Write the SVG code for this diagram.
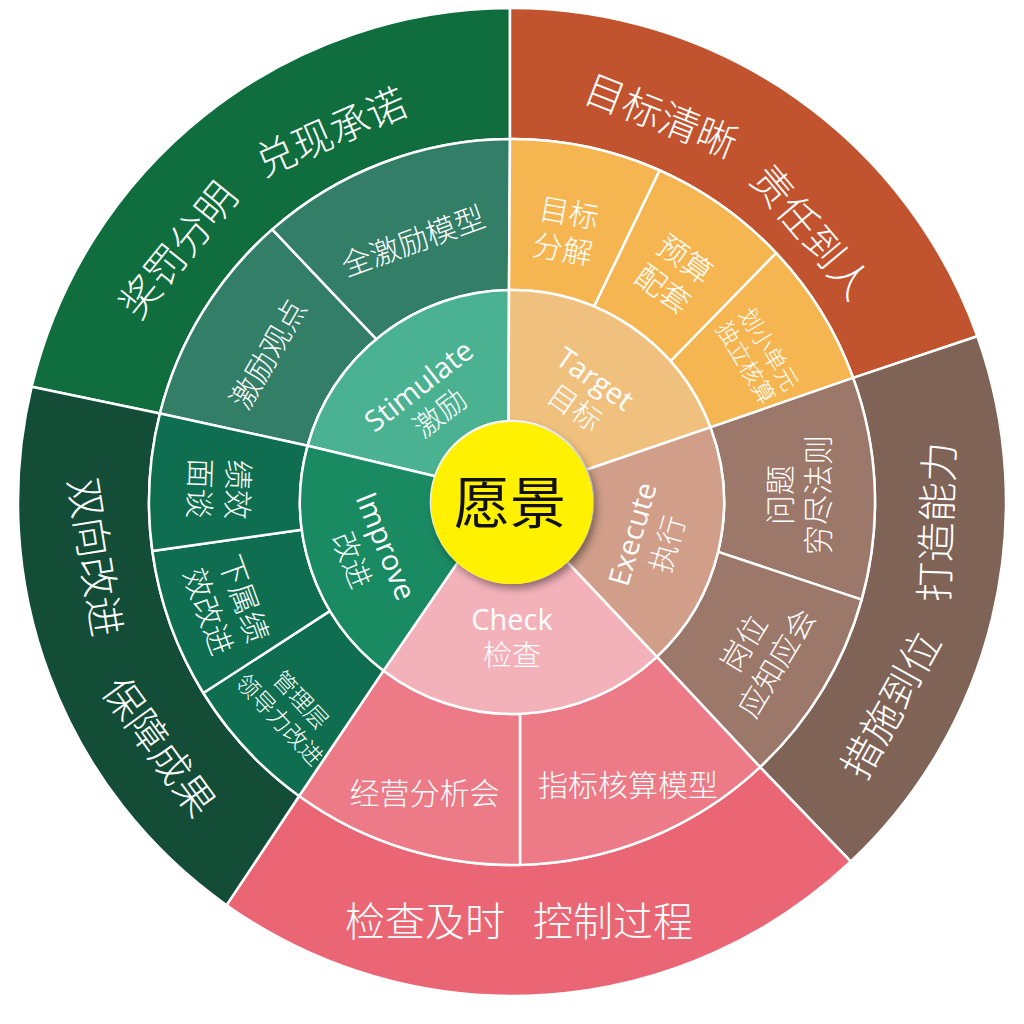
<svg xmlns="http://www.w3.org/2000/svg" width="1024" height="1024" viewBox="0 0 1024 1024">
<defs>
<style>
.seg{stroke:#ffffff;stroke-width:2.5;stroke-linejoin:round}
.t{fill:#ffffff;font-family:"Open Sans","Noto Sans CJK SC",sans-serif;font-weight:300;text-anchor:middle}
.lat{font-weight:400}
.o{font-size:40px}
.m{font-size:30px}
.s{font-size:23px}
.i{font-size:29px}
.core{fill:#111111;font-family:"Noto Sans CJK SC",sans-serif;font-size:56px;text-anchor:middle}
</style>
<filter id="sh" x="-30%" y="-30%" width="160%" height="160%">
<feDropShadow dx="3" dy="4" stdDeviation="4" flood-color="#000000" flood-opacity="0.45"/>
</filter>
</defs>
<rect width="1024" height="1024" fill="#ffffff"/>

<g id="outer-ring">
<g id="outer-stimulate">
<path class="seg" fill="#106e3e" d="M31.65,386.68 A494,494 0 0 1 510,8 L510,139.01 A363,363 0 0 0 159.94,413.57 Z"/>
<text class="t o" transform="translate(178 250) rotate(-51)" y="14.5">奖罚分明</text>
<text class="t o" transform="translate(331 132) rotate(-23.5)" y="14.5">兑现承诺</text>
</g>
<g id="outer-target">
<path class="seg" fill="#c1542f" d="M510,8 A494,494 0 0 1 977.38,336.29 L853.11,377.85 A363,363 0 0 0 510,139.01 Z"/>
<text class="t o" transform="translate(661 116) rotate(21.5)" y="14.5">目标清晰</text>
<text class="t o" transform="translate(811 232) rotate(50)" y="14.5">责任到人</text>
</g>
<g id="outer-execute">
<path class="seg" fill="#806357" d="M977.38,336.29 A494,494 0 0 1 850.8,861.52 L760.03,767.05 A363,363 0 0 0 853.11,377.85 Z"/>
<text class="t o" transform="translate(937 522) rotate(-88)" y="14.5">打造能力</text>
<text class="t o" transform="translate(891 705) rotate(-61)" y="14.5">措施到位</text>
</g>
<g id="outer-check">
<path class="seg" fill="#ea6674" d="M850.8,861.52 A494,494 0 0 1 226.54,905.17 L299.15,796.04 A363,363 0 0 0 760.03,767.05 Z"/>
<text class="t o" x="425" y="935.5">检查及时</text>
<text class="t o" x="613" y="935.5">控制过程</text>
</g>
<g id="outer-improve">
<path class="seg" fill="#134d38" d="M226.54,905.17 A494,494 0 0 1 31.65,386.68 L159.94,413.57 A363,363 0 0 0 299.15,796.04 Z"/>
<text class="t o" transform="translate(95 557) rotate(81)" y="14.5">双向改进</text>
<text class="t o" transform="translate(159 747) rotate(54)" y="14.5">保障成果</text>
</g>
</g>

<g id="middle-ring">
<g id="m-jiliguandian">
<path class="seg" fill="#337e67" d="M159.94,413.57 A363,363 0 0 1 272.26,229.43 L376.3,339.12 A212,212 0 0 0 307.61,445.7 Z"/>
<text class="t m" transform="translate(268 354) rotate(-60)" y="11">激励观点</text>
</g>
<g id="m-quanjili">
<path class="seg" fill="#337e67" d="M272.26,229.43 A363,363 0 0 1 510,139.01 L509,290.02 A212,212 0 0 0 376.3,339.12 Z"/>
<text class="t m" transform="translate(413 241) rotate(-20)" y="11">全激励模型</text>
</g>
<g id="m-mubiao">
<path class="seg" fill="#f5b652" d="M510,139.01 A363,363 0 0 1 659.65,170.38 L594.15,306.57 A212,212 0 0 0 509,290.02 Z"/>
<text class="t m" transform="translate(566 231) rotate(10)"><tspan x="0" y="-7.5">目标</tspan><tspan x="0" y="29.5">分解</tspan></text>
</g>
<g id="m-yusuan">
<path class="seg" fill="#f5b652" d="M659.65,170.38 A363,363 0 0 1 776.18,253.05 L670.53,361.25 A212,212 0 0 0 594.15,306.57 Z"/>
<text class="t m" transform="translate(674 274) rotate(36)"><tspan x="0" y="-7.5">预算</tspan><tspan x="0" y="29.5">配套</tspan></text>
</g>
<g id="m-huaxiao">
<path class="seg" fill="#f5b652" d="M776.18,253.05 A363,363 0 0 1 853.11,377.85 L710.44,427.41 A212,212 0 0 0 670.53,361.25 Z"/>
<text class="t s" transform="translate(757 356) rotate(59)"><tspan x="0" y="-5.5">划小单元</tspan><tspan x="0" y="21.5">独立核算</tspan></text>
</g>
<g id="m-wenti">
<path class="seg" fill="#9c786a" d="M853.11,377.85 A363,363 0 0 1 861.63,599.62 L718.06,551.85 A212,212 0 0 0 710.44,427.41 Z"/>
<text class="t m" transform="translate(799 495) rotate(-90)"><tspan x="0" y="-8">问题</tspan><tspan x="0" y="30">穷尽法则</tspan></text>
</g>
<g id="m-gangwei">
<path class="seg" fill="#9c786a" d="M861.63,599.62 A363,363 0 0 1 760.03,767.05 L656.85,656.79 A212,212 0 0 0 718.06,551.85 Z"/>
<text class="t m" transform="translate(760 653) rotate(-59)"><tspan x="0" y="-8">岗位</tspan><tspan x="0" y="30">应知应会</tspan></text>
</g>
<g id="m-zhibiao">
<path class="seg" fill="#ec7b87" d="M760.03,767.05 A363,363 0 0 1 520,864.91 L520,713.85 A212,212 0 0 0 656.85,656.79 Z"/>
<text class="t m" x="628" y="796">指标核算模型</text>
</g>
<g id="m-jingying">
<path class="seg" fill="#ec7b87" d="M520,864.91 A363,363 0 0 1 299.15,796.04 L383.53,670.64 A212,212 0 0 0 520,713.85 Z"/>
<text class="t m" x="424.5" y="804">经营分析会</text>
</g>
<g id="m-guanli">
<path class="seg" fill="#0f6e4f" d="M299.15,796.04 A363,363 0 0 1 203.32,693.01 L330.08,610.86 A212,212 0 0 0 383.53,670.64 Z"/>
<text class="t s" transform="translate(290 710) rotate(47)"><tspan x="0" y="-6.5">管理层</tspan><tspan x="0" y="22.5">领导力改进</tspan></text>
</g>
<g id="m-xiashu">
<path class="seg" fill="#0f6e4f" d="M203.32,693.01 A363,363 0 0 1 152.31,550.95 L301.81,529.67 A212,212 0 0 0 330.08,610.86 Z"/>
<text class="t m" transform="translate(226 605) rotate(70)"><tspan x="0" y="-8">下属绩</tspan><tspan x="0" y="30">效改进</tspan></text>
</g>
<g id="m-jixiao">
<path class="seg" fill="#0f6e4f" d="M152.31,550.95 A363,363 0 0 1 159.94,413.57 L307.61,445.7 A212,212 0 0 0 301.81,529.67 Z"/>
<text class="t m" transform="translate(219 489) rotate(92)"><tspan x="0" y="-8">绩效</tspan><tspan x="0" y="30">面谈</tspan></text>
</g>
</g>

<g id="inner-ring">
<g id="stimulate">
<path class="seg" fill="#4bb291" d="M307.61,445.7 A212,212 0 0 1 509,290.02 L508.5,421.08 A81,81 0 0 0 435.19,476.3 Z"/>
<text class="t i" transform="translate(429 399) rotate(-38)"><tspan class="lat" x="0" y="-6.5">Stimulate</tspan><tspan x="0" y="28">激励</tspan></text>
</g>
<g id="target">
<path class="seg" fill="#f0c17e" d="M509,290.02 A212,212 0 0 1 710.44,427.41 L586.28,469.7 A81,81 0 0 0 508.5,421.08 Z"/>
<text class="t i" transform="translate(585 393) rotate(35)"><tspan class="lat" x="0" y="-7">Target</tspan><tspan x="0" y="28.5">目标</tspan></text>
</g>
<g id="execute">
<path class="seg" fill="#d09e89" d="M710.44,427.41 A212,212 0 0 1 656.85,656.79 L566.83,561.62 A81,81 0 0 0 586.28,469.7 Z"/>
<text class="t i" transform="translate(649.5 539) rotate(-74)"><tspan class="lat" x="0" y="-7.5">Execute</tspan><tspan x="0" y="29">执行</tspan></text>
</g>
<g id="check">
<path class="seg" fill="#f3b2ba" d="M656.85,656.79 A212,212 0 0 1 383.53,670.64 L457.8,562.19 A81,81 0 0 0 566.83,561.62 Z"/>
<text class="t i" transform="translate(512 637)"><tspan class="lat" x="0" y="-7.5">Check</tspan><tspan x="0" y="28.5">检查</tspan></text>
</g>
<g id="improve">
<path class="seg" fill="#1a8a63" d="M383.53,670.64 A212,212 0 0 1 307.61,445.7 L435.19,476.3 A81,81 0 0 0 457.8,562.19 Z"/>
<text class="t i" transform="translate(369 553) rotate(68)"><tspan class="lat" x="0" y="-8">Improve</tspan><tspan x="0" y="29">改进</tspan></text>
</g>
</g>

<g id="vision">
<circle cx="512" cy="503" r="81" fill="#fff100" filter="url(#sh)"/>
<text class="core" x="510" y="523">愿景</text>
</g>
</svg>
